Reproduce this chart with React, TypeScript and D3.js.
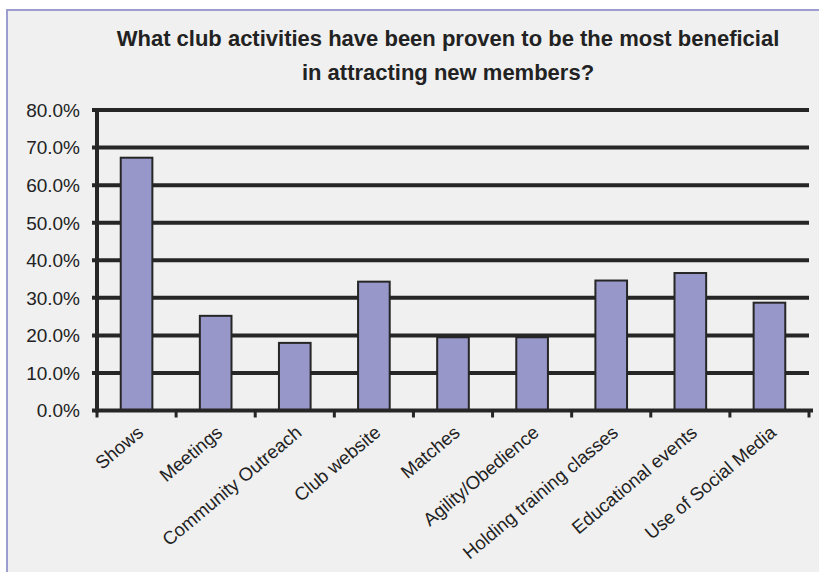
import React from "react";
import * as d3 from "d3";

const titleLines = [
  "What club activities have been proven to be the most beneficial",
  "in attracting new members?",
];
const categories = [
  "Shows",
  "Meetings",
  "Community Outreach",
  "Club website",
  "Matches",
  "Agility/Obedience",
  "Holding training classes",
  "Educational events",
  "Use of Social Media",
];
const values = [67.3, 25.2, 18.0, 34.3, 19.5, 19.5, 34.6, 36.6, 28.7];
const yTicks = [0, 10, 20, 30, 40, 50, 60, 70, 80];

const W = 819;
const H = 572;
const left = 97;
const right = 809;
const top = 110;
const bottom = 410.5;

export default function App() {
  const x = d3
    .scaleBand<string>()
    .domain(categories)
    .range([left, right])
    .paddingInner(0.6)
    .paddingOuter(0.3);
  const y = d3.scaleLinear().domain([0, 80]).range([bottom, top]);
  const step = x.step();
  const boundaries = d3.range(categories.length + 1).map((i) => left + i * step);
  const ink = "#262626";
  const font = "Arial, 'Liberation Sans', Helvetica, sans-serif";

  return (
    <div style={{ position: "fixed", left: 0, top: 0 }}>
      <svg width={W} height={H} style={{ display: "block" }}>
        <rect x={0} y={0} width={W} height={H} fill="#ffffff" />
        <rect x={7} y={10} width={W + 20} height={H + 20} fill="#f0f0f0" stroke="#9d9dd0" strokeWidth={2} />
        {titleLines.map((t, i) => (
          <text
            key={i}
            x={448}
            y={46 + i * 34}
            textAnchor="middle"
            fontFamily={font}
            fontSize={22}
            fontWeight="bold"
            fill="#222"
          >
            {t}
          </text>
        ))}
        {yTicks
          .filter((t) => t > 0)
          .map((t) => (
            <line key={t} x1={left - 5} x2={right} y1={y(t)} y2={y(t)} stroke={ink} strokeWidth={4} />
          ))}
        {yTicks.map((t) => (
          <text
            key={"l" + t}
            x={80}
            y={y(t)}
            dy="0.36em"
            textAnchor="end"
            fontFamily={font}
            fontSize={19}
            fill="#222"
          >
            {t.toFixed(1) + "%"}
          </text>
        ))}
        {categories.map((c, i) => (
          <rect
            key={c}
            x={x(c)}
            y={y(values[i])}
            width={x.bandwidth()}
            height={bottom - y(values[i])}
            fill="#9797c9"
            stroke={ink}
            strokeWidth={2}
          />
        ))}
        <line x1={left} x2={left} y1={top - 2} y2={bottom + 2} stroke={ink} strokeWidth={4} />
        <line x1={left - 5} x2={right + 4} y1={bottom} y2={bottom} stroke={ink} strokeWidth={4} />
        {boundaries.map((b, i) => (
          <line key={"t" + i} x1={b} x2={b} y1={bottom} y2={bottom + 7} stroke={ink} strokeWidth={3} />
        ))}
        {categories.map((c) => {
          const cx = (x(c) as number) + x.bandwidth() / 2;
          return (
            <text
              key={"x" + c}
              transform={`translate(${cx + 8},${bottom + 24}) rotate(-40)`}
              textAnchor="end"
              fontFamily={font}
              fontSize={18.5}
              fill="#222"
            >
              {c}
            </text>
          );
        })}
      </svg>
    </div>
  );
}
